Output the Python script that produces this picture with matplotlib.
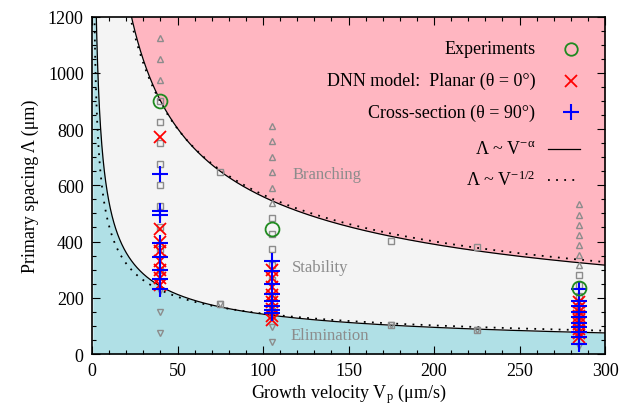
import numpy as np
import matplotlib
matplotlib.use("Agg")
from matplotlib import pyplot as plt

plt.rcParams['font.family'] = ['Liberation Serif', 'DejaVu Serif']
plt.rcParams['mathtext.fontset'] = 'custom'
plt.rcParams['mathtext.rm'] = 'Liberation Serif'
plt.rcParams['mathtext.it'] = 'Liberation Serif'

# boundary fits  Lambda = A * V^-alpha
upper_fit = (6134.0, 0.52)
lower_fit = (2048.0, 0.58)
upper_half = 5664.0   # B * V^-1/2
lower_half = 1438.0

# simulation grid (grey markers), per velocity
v_cols = [40, 105, 285]
branch = [[1125, 1050, 975],
          [812, 757, 702, 647, 592, 537],
          [533, 496, 460, 424, 388, 352, 316]]
stable = [[900, 825, 750, 675, 600, 525, 450, 375, 300],
          [482, 427, 372, 317, 262, 207, 152],
          [280, 244, 208, 171, 135, 99]]
elim = [[225, 150, 75],
        [97, 42],
        [63, 27]]

# extra grid points between columns
v_extra = [75, 175, 225]
stable_hi = [646, 402, 381]
stable_lo = [177, 104, 85]

# experiments
v_exp = [40, 105, 285]
lam_exp = [898, 445, 235]

# DNN planar (theta = 0)
planar = {40: [770, 445, 400, 365, 330, 300, 270, 245],
          105: [300, 270, 240, 210, 185, 160, 135, 120],
          285: [185, 165, 150, 135, 120, 105, 90, 75, 60]}
# DNN cross-section (theta = 90)
cross = {40: [640, 510, 495, 395, 345, 300, 265, 232],
         105: [330, 295, 250, 215, 190, 170, 155, 145],
         285: [232, 190, 170, 150, 130, 110, 95, 80, 60, 35]}

fig = plt.figure(figsize=(6.31, 4.14), dpi=100)
ax = fig.add_axes([0.1458, 0.1425, 0.8130, 0.8152])

v = np.linspace(0.5, 300, 2000)
up = upper_fit[0] * v ** -upper_fit[1]
lo = lower_fit[0] * v ** -lower_fit[1]
ax.fill_between(v, 0, np.minimum(lo, 1200), color='#b0e0e6', lw=0, zorder=0)
ax.fill_between(v, np.minimum(lo, 1200), np.minimum(up, 1200), color='#f4f4f4', lw=0, zorder=0)
ax.fill_between(v, np.minimum(up, 1200), 1200, color='#ffb6c1', lw=0, zorder=0)

ax.plot(v, up, color='black', lw=0.9, zorder=2)
ax.plot(v, lo, color='black', lw=0.9, zorder=2)
ax.plot(v, upper_half * v ** -0.5, color='black', lw=1.3, ls=(0, (1, 3.5)), zorder=2)
ax.plot(v, lower_half * v ** -0.5, color='black', lw=1.3, ls=(0, (1, 3.5)), zorder=2)

grey = '#8c8c8c'
mk = dict(ls='none', mfc='none', mec=grey, mew=1.0, zorder=3)
for vc, b, s, e in zip(v_cols, branch, stable, elim):
    ax.plot([vc] * len(b), b, marker='^', ms=5, **mk)
    ax.plot([vc] * len(s), s, marker='s', ms=5, **mk)
    ax.plot([vc] * len(e), e, marker='v', ms=5, **mk)
ax.plot(v_extra, stable_hi, marker='s', ms=5, **mk)
ax.plot(v_extra, stable_lo, marker='s', ms=5, **mk)
ax.plot(v_extra, stable_lo, marker='v', ms=4, **mk)

for vc in v_cols:
    ax.plot([vc] * len(planar[vc]), planar[vc], ls='none', marker='x', ms=8,
            mew=1.3, color='red', zorder=4)
    ax.plot([vc] * len(cross[vc]), cross[vc], ls='none', marker='+', ms=11,
            mew=1.5, color='blue', zorder=5)
ax.plot(v_exp, lam_exp, ls='none', marker='o', ms=10, mfc='none', mec='#1f8a1f',
        mew=1.3, zorder=6)

ax.text(117, 640, 'Branching', color=grey, fontsize=12, va='center')
ax.text(117, 309, 'Stability', color=grey, fontsize=12, va='center')
ax.text(116, 68, 'Elimination', color=grey, fontsize=12, va='center')

# legend, gnuplot style: text right-aligned, sample on the right
rows = [0.905, 0.81, 0.717, 0.608, 0.517]
labels = ['Experiments', 'DNN model:  Planar (θ = 0°)',
          'Cross-section (θ = 90°)',
          r'Λ ~ V$^{\mathregular{-α}}$', r'Λ ~ V$^{\mathregular{-1/2}}$']
tx, mx = 0.864, 0.9335
for y, lab in zip(rows, labels):
    ax.text(tx, y, lab, transform=ax.transAxes, ha='right', va='center', fontsize=13)
tr = ax.transAxes
ax.plot([mx], [rows[0]], transform=tr, marker='o', ms=9, mfc='none', mec='#1f8a1f', mew=1.3)
ax.plot([mx], [rows[1]], transform=tr, marker='x', ms=8, mew=1.3, color='red')
ax.plot([mx], [rows[2]], transform=tr, marker='+', ms=11, mew=1.5, color='blue')
ax.plot([0.888, 0.952], [rows[3]] * 2, transform=tr, color='black', lw=0.9)
ax.plot([0.888, 0.952], [rows[4]] * 2, transform=tr, color='black', lw=1.3, ls=(0, (1, 3.5)))

ax.set_xlim(0, 300)
ax.set_ylim(0, 1200)
ax.set_xticks(np.arange(0, 301, 50))
ax.set_xticks(np.arange(0, 301, 10), minor=True)
ax.set_yticks(np.arange(0, 1201, 200))
ax.set_yticks(np.arange(0, 1201, 50), minor=True)
ax.tick_params(which='both', direction='in', top=True, right=True, labelsize=13, width=0.8)
ax.tick_params(which='major', length=6, pad=6)
ax.tick_params(which='minor', length=3)
for sp in ax.spines.values():
    sp.set_linewidth(1.2)
ax.set_xlabel(r'Growth velocity V$_{\mathregular{p}}$ (μm/s)', fontsize=13, labelpad=1)
ax.set_ylabel('Primary spacing Λ (μm)', fontsize=13, labelpad=6)

fig.savefig('out.png', dpi=100)
